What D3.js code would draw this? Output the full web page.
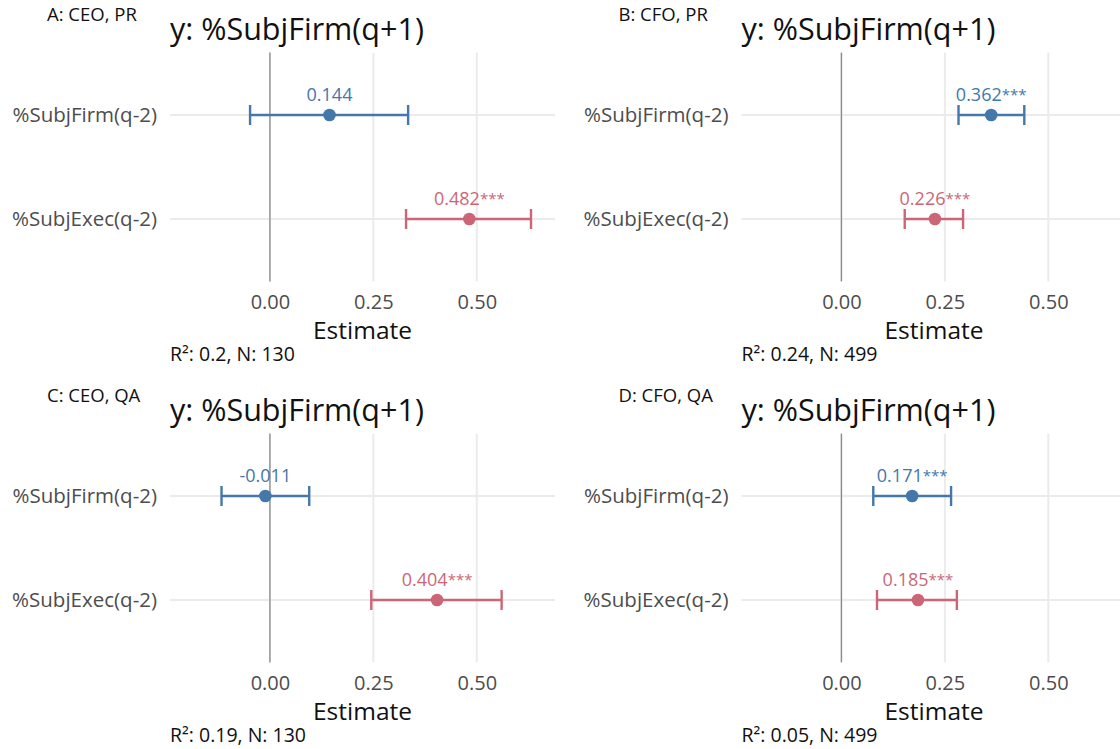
<!DOCTYPE html>
<html>
<head>
<meta charset="utf-8">
<script src="https://cdn.jsdelivr.net/npm/d3@7"></script>
<style>
  body { margin: 0; background: #fff; }
  svg text { font-family: "Open Sans", Lato, sans-serif; }
</style>
</head>
<body>
<div id="chart"></div>
<script>
// coefficient plot, four models
var svgWidth = 1120;
var svgHeight = 749;

// data
var panelLabels = ['A: CEO, PR', 'B: CFO, PR', 'C: CEO, QA', 'D: CFO, QA'];
var terms = ['%SubjFirm(q-2)', '%SubjExec(q-2)'];
var estimates = [[0.144, 0.482], [0.362, 0.226], [-0.011, 0.404], [0.171, 0.185]];
var ciLow = [[-0.048, 0.329], [0.283, 0.153], [-0.117, 0.245], [0.077, 0.086]];
var ciHigh = [[0.334, 0.631], [0.442, 0.294], [0.095, 0.560], [0.265, 0.279]];
var stars = [['', '***'], ['***', '***'], ['', '***'], ['***', '***']];
var fitStats = ['R²: 0.2, N: 130', 'R²: 0.24, N: 499', 'R²: 0.19, N: 130', 'R²: 0.05, N: 499'];
var xTicks = [0, 0.25, 0.5];
var titleText = 'y: %SubjFirm(q+1)';
var termColors = ['#4477AA', '#CC6677'];

// 2x2 layout
var offsets = [[0, 0], [571.5, 0], [0, 381], [571.5, 381]];
var plot = { left: 170, right: 555, top: 52.6, bottom: 281.4 };

var svg = d3.select('#chart')
  .append('svg')
  .attr('width', svgWidth)
  .attr('height', svgHeight);

var x = d3.scaleLinear()
  .domain([-0.2415, 0.689])
  .range([plot.left, plot.right]);

var y = d3.scalePoint()
  .domain(terms)
  .range([plot.top, plot.bottom])
  .padding(0.6);

panelLabels.forEach(function(label, p) {
  var g = svg.append('g')
    .attr('transform', `translate(${offsets[p][0]}, ${offsets[p][1]})`);

  // grid lines
  g.selectAll('.vgrid')
    .data(xTicks)
    .enter()
    .append('line')
    .attr('x1', d => x(d)).attr('x2', d => x(d))
    .attr('y1', plot.top).attr('y2', plot.bottom)
    .attr('stroke', '#ebebeb')
    .attr('stroke-width', 2);

  g.selectAll('.hgrid')
    .data(terms)
    .enter()
    .append('line')
    .attr('x1', plot.left).attr('x2', plot.right)
    .attr('y1', d => y(d)).attr('y2', d => y(d))
    .attr('stroke', '#ebebeb')
    .attr('stroke-width', 2);

  // zero line
  g.append('line')
    .attr('x1', x(0)).attr('x2', x(0))
    .attr('y1', plot.top).attr('y2', plot.bottom)
    .attr('stroke', '#8a8a8a')
    .attr('stroke-width', 1.3);

  // x axis
  var xAxis = g.append('g')
    .attr('transform', `translate(0, ${plot.bottom})`)
    .call(d3.axisBottom(x).tickValues(xTicks).tickFormat(d3.format('.2f')).tickSize(0).tickPadding(13));
  xAxis.select('.domain').remove();
  xAxis.selectAll('text')
    .attr('fill', '#4d4d4d')
    .style('font-size', '20px');

  // y axis
  var yAxis = g.append('g')
    .attr('transform', `translate(${plot.left}, 0)`)
    .call(d3.axisLeft(y).tickSize(0).tickPadding(13));
  yAxis.select('.domain').remove();
  yAxis.selectAll('text')
    .attr('fill', '#4d4d4d')
    .style('font-size', '20.5px');

  var rows = terms.map(function(t, i) {
    return { term: t, est: estimates[p][i], lo: ciLow[p][i], hi: ciHigh[p][i], star: stars[p][i], color: termColors[i] };
  });

  // error bars
  var bars = g.selectAll('.bar')
    .data(rows)
    .enter()
    .append('g');

  bars.append('line')
    .attr('x1', d => x(d.lo)).attr('x2', d => x(d.hi))
    .attr('y1', d => y(d.term)).attr('y2', d => y(d.term))
    .attr('stroke', d => d.color)
    .attr('stroke-width', 2.4);

  bars.append('line')
    .attr('x1', d => x(d.lo)).attr('x2', d => x(d.lo))
    .attr('y1', d => y(d.term) - 10).attr('y2', d => y(d.term) + 10)
    .attr('stroke', d => d.color)
    .attr('stroke-width', 2.4);

  bars.append('line')
    .attr('x1', d => x(d.hi)).attr('x2', d => x(d.hi))
    .attr('y1', d => y(d.term) - 10).attr('y2', d => y(d.term) + 10)
    .attr('stroke', d => d.color)
    .attr('stroke-width', 2.4);

  bars.append('circle')
    .attr('cx', d => x(d.est))
    .attr('cy', d => y(d.term))
    .attr('r', 6.3)
    .attr('fill', d => d.color);

  var labels = bars.append('text')
    .attr('x', d => x(d.est))
    .attr('y', d => y(d.term) - 14)
    .attr('text-anchor', 'middle')
    .attr('fill', d => d.color)
    .style('font-size', '18px');
  labels.append('tspan')
    .text(d => d3.format('.3f')(d.est).replace('−', '-'));
  labels.append('tspan')
    .style('font-size', '15px')
    .attr('dy', -1)
    .text(d => d.star);

  // titles and notes
  g.append('text')
    .attr('x', plot.left)
    .attr('y', 40)
    .attr('fill', '#111')
    .style('font-size', '30.5px')
    .text(titleText);

  g.append('text')
    .attr('x', 47)
    .attr('y', 21)
    .attr('fill', '#111')
    .style('font-size', '18.5px')
    .text(label);

  g.append('text')
    .attr('x', (plot.left + plot.right) / 2)
    .attr('y', 339)
    .attr('text-anchor', 'middle')
    .attr('fill', '#111')
    .style('font-size', '24.5px')
    .text('Estimate');

  g.append('text')
    .attr('x', plot.left)
    .attr('y', 361)
    .attr('fill', '#111')
    .style('font-size', '19.5px')
    .text(fitStats[p]);
});
</script>
</body>
</html>
